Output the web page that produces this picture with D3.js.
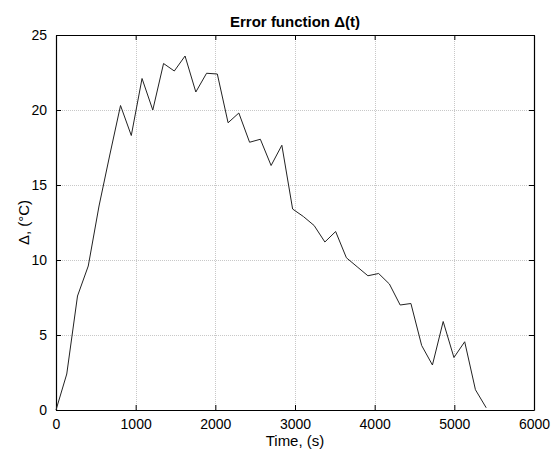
<!DOCTYPE html>
<html>
<head>
<meta charset="utf-8">
<script src="https://cdn.jsdelivr.net/npm/d3@7"></script>
<style>
  html, body { margin: 0; padding: 0; background: #fff; }
  svg { display: block; font-family: "Liberation Sans", Arial, Helvetica, sans-serif; }
</style>
</head>
<body>
<svg id="chart" width="551" height="452"></svg>
<script>
// Sample times (s)
const times = [0, 135, 270, 405, 540, 675, 810, 945, 1080, 1215, 1350, 1485, 1620, 1755,
  1890, 2025, 2160, 2295, 2430, 2565, 2700, 2835, 2970, 3105, 3240, 3375, 3510, 3645,
  3780, 3915, 4050, 4185, 4320, 4455, 4590, 4725, 4860, 4995, 5130, 5265, 5400];
// Error Δ (°C) at each sample
const delta = [0, 2.4, 7.6, 9.6, 13.6, 17.0, 20.3, 18.3, 22.1, 20.0, 23.1, 22.6, 23.6, 21.2,
  22.45, 22.4, 19.15, 19.8, 17.85, 18.05, 16.3, 17.65, 13.4, 12.9, 12.3, 11.2, 11.9, 10.15,
  9.55, 8.95, 9.1, 8.4, 7.0, 7.1, 4.3, 3.0, 5.9, 3.5, 4.55, 1.35, 0.15];

const xTicks = [0, 1000, 2000, 3000, 4000, 5000, 6000];
const yTicks = [0, 5, 10, 15, 20, 25];

const margin = { left: 56, right: 17, top: 35, bottom: 42 };
const W = 551, H = 452;
const pw = W - margin.left - margin.right;
const ph = H - margin.top - margin.bottom;

const svg = d3.select("#chart");
const g = svg.append("g").attr("transform", `translate(${margin.left},${margin.top})`);

const x = d3.scaleLinear().domain([0, 6000]).range([0, pw]);
const y = d3.scaleLinear().domain([0, 25]).range([ph, 0]);

// dotted grid
g.append("g").selectAll("line.gx").data(xTicks.slice(1, -1)).join("line")
  .attr("x1", d => Math.round(x(d)) + 0.5).attr("x2", d => Math.round(x(d)) + 0.5)
  .attr("y1", 0).attr("y2", ph)
  .attr("stroke", "#c8c8c8").attr("stroke-width", 1).attr("stroke-dasharray", "1,1");
g.append("g").selectAll("line.gy").data(yTicks.slice(1, -1)).join("line")
  .attr("y1", d => Math.round(y(d)) + 0.5).attr("y2", d => Math.round(y(d)) + 0.5)
  .attr("x1", 0).attr("x2", pw)
  .attr("stroke", "#c8c8c8").attr("stroke-width", 1).attr("stroke-dasharray", "1,1");

// axes with inward ticks on all four sides
const fmt = d3.format("d");
const axB = g.append("g").attr("transform", `translate(0,${ph})`)
  .call(d3.axisBottom(x).tickValues(xTicks).tickFormat(fmt).tickSizeInner(-5).tickSizeOuter(0).tickPadding(9));
const axT = g.append("g")
  .call(d3.axisTop(x).tickValues(xTicks).tickFormat("").tickSizeInner(-5).tickSizeOuter(0));
const axL = g.append("g")
  .call(d3.axisLeft(y).tickValues(yTicks).tickFormat(fmt).tickSizeInner(-5).tickSizeOuter(0).tickPadding(9));
const axR = g.append("g").attr("transform", `translate(${pw},0)`)
  .call(d3.axisRight(y).tickValues(yTicks).tickFormat("").tickSizeInner(-5).tickSizeOuter(0));

[axB, axT, axL, axR].forEach(a => {
  a.selectAll(".domain").attr("stroke", "#000").attr("stroke-width", 1.2);
  a.selectAll(".tick line").attr("stroke", "#000");
  a.selectAll("text").attr("fill", "#000").attr("font-size", 14)
    .attr("font-family", "'Liberation Sans', Arial, sans-serif");
});

// data line
const line = d3.line().x((d, i) => x(times[i])).y(d => y(d));
g.append("path").datum(delta)
  .attr("d", line)
  .attr("fill", "none")
  .attr("stroke", "#222")
  .attr("stroke-width", 1)
  .attr("stroke-linejoin", "miter");

// title and axis labels
svg.append("text")
  .attr("x", margin.left + pw / 2).attr("y", 27)
  .attr("text-anchor", "middle").attr("font-size", 15).attr("font-weight", "bold")
  .text("Error function \u0394(t)");
svg.append("text")
  .attr("x", margin.left + pw / 2).attr("y", 446)
  .attr("text-anchor", "middle").attr("font-size", 15)
  .text("Time, (s)");
svg.append("text")
  .attr("transform", `translate(29,${margin.top + ph / 2}) rotate(-90)`)
  .attr("text-anchor", "middle").attr("font-size", 15)
  .text("\u0394, (\u00B0C)");
</script>
</body>
</html>
